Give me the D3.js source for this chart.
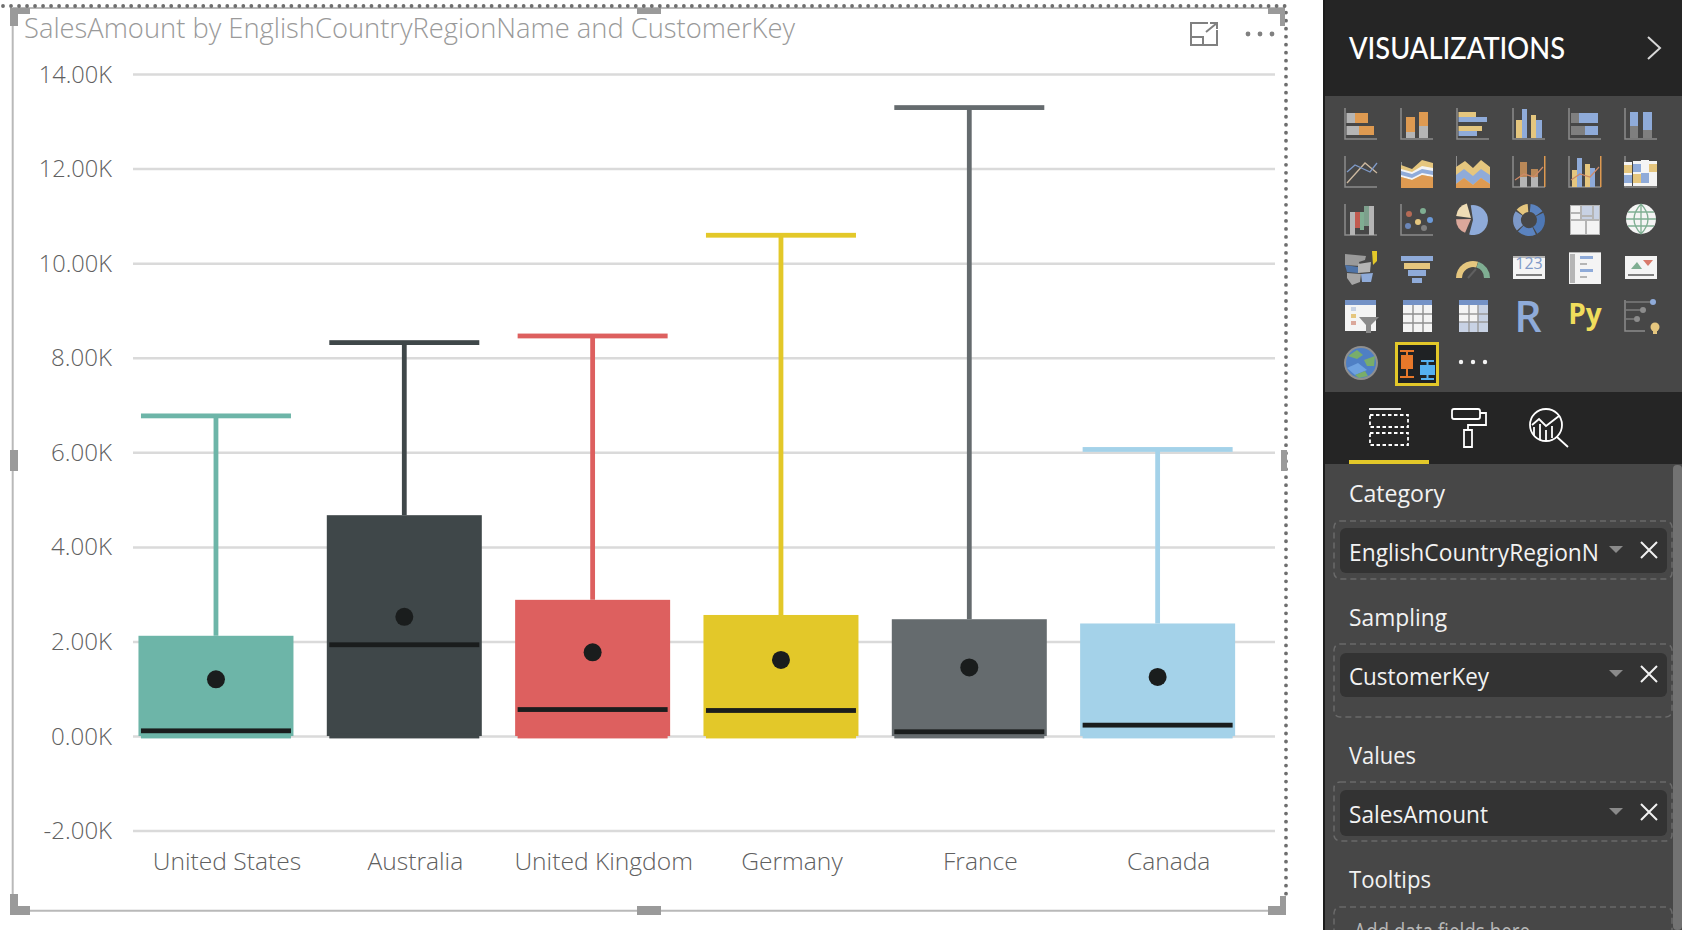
<!DOCTYPE html>
<html><head><meta charset="utf-8">
<script src="https://cdn.jsdelivr.net/npm/d3@7/dist/d3.min.js"></script>
<style>html,body{margin:0;padding:0;background:#fff;overflow:hidden}svg{display:block}text{font-family:"Open Sans",sans-serif}</style>
</head><body><svg id="c" width="1682" height="930"></svg>
<script>
const categories=["United States","Australia","United Kingdom","Germany","France","Canada"];
const whiskerHigh=[6770,8320,8460,10590,13290,6060];
const boxHigh=[2120,4670,2880,2560,2470,2380];
const meanValues=[1200,2520,1770,1610,1450,1250];
const medianValues=[110,1930,560,540,90,230];
const lowValues=[0,0,0,0,0,0];
const colors=["#6DB5A8","#3F4749","#DD605F","#E3C829","#656B6E","#A4D2E9"];
const yTicks=[-2000,0,2000,4000,6000,8000,10000,12000,14000];
const svg=d3.select("#c");
const x=d3.scaleBand().domain(categories).range([121.8,1251.8]).paddingInner(0.177).paddingOuter(0.0885);
const y=d3.scaleLinear().domain([-2000,14000]).range([830.6,74]);

// ---- visual frame
const frame=svg.append("g");
frame.append("path").attr("d","M12.7 8V910.7H1284M12.7 8H1284").attr("fill","none").attr("stroke","#b9b9b9").attr("stroke-width",2);
frame.append("path").attr("d","M3 6H1286V900").attr("fill","none").attr("stroke","#6e6e6e").attr("stroke-width",3.8).attr("stroke-linecap","round").attr("stroke-dasharray","0.01 8");
[[10,8,20,6],[10,8,8,18],[1268,8,16,6],[1280,8,5,18],[10,894,8,21],[10,906,20,9],[637,906,24,9],[637,8,24,6],[10,450,8,21],[1281,450,6,21],[1268,906,18,9],[1280,896,6,19]]
 .forEach(d=>frame.append("rect").attr("x",d[0]).attr("y",d[1]).attr("width",d[2]).attr("height",d[3]).attr("fill","#9a9a9a"));
svg.append("text").attr("x",24).attr("y",38).attr("font-size",27).attr("font-weight",300).attr("fill","#9a9a9a").attr("textLength",771).attr("lengthAdjust","spacingAndGlyphs").text("SalesAmount by EnglishCountryRegionName and CustomerKey");
const hdr=svg.append("g").attr("fill","none").attr("stroke","#808080").attr("stroke-width",2);
hdr.append("path").attr("d","M1217 30V45H1191V23H1208M1191 37H1203V45M1206 32L1217 23M1210 23H1217V29");
[1248,1260,1272].forEach(c=>svg.append("circle").attr("cx",c).attr("cy",34).attr("r",2.4).attr("fill","#808080"));

// ---- axes
const gy=svg.append("g").attr("transform","translate(133,0)").call(d3.axisLeft(y).tickValues(yTicks).tickSize(-1142).tickPadding(21).tickFormat(d=>(d/1000).toFixed(2)+"K"));
gy.select(".domain").remove();
gy.selectAll("line").attr("stroke","#dadada").attr("stroke-width",2.5);
gy.selectAll("text").attr("font-size",24.5).attr("font-weight",300).attr("fill","#606060").attr("dy","0.33em").each(function(){this.setAttribute("textLength",this.textContent.length*(this.textContent[0]=="-"?11.4:12.2));this.setAttribute("lengthAdjust","spacingAndGlyphs");});
const gx=svg.append("g").attr("transform","translate(11,853)").call(d3.axisBottom(x).tickSize(0).tickPadding(0));
gx.select(".domain").remove();
gx.selectAll("text").attr("font-size",24.6).attr("font-weight",300).attr("fill","#606060").attr("dy","0.71em").attr("y",0);

// ---- boxes
const capW=150,th=4.8;
categories.forEach((c,i)=>{
 const g=svg.append("g"),cx=x(c)+x.bandwidth()/2,col=colors[i];
 g.append("line").attr("x1",cx).attr("x2",cx).attr("y1",y(whiskerHigh[i])).attr("y2",y(boxHigh[i])).attr("stroke",col).attr("stroke-width",th);
 g.append("rect").attr("x",x(c)).attr("width",x.bandwidth()).attr("y",y(boxHigh[i])).attr("height",y(lowValues[i])-y(boxHigh[i])).attr("fill",col);
 [whiskerHigh[i],lowValues[i]].forEach(v=>g.append("rect").attr("x",cx-capW/2).attr("width",capW).attr("y",y(v)-th/2).attr("height",th).attr("fill",col));
 g.append("rect").attr("x",cx-capW/2).attr("width",capW).attr("y",y(medianValues[i])-th/2).attr("height",th).attr("fill","#1a1d1d");
 g.append("circle").attr("cx",cx).attr("cy",y(meanValues[i])).attr("r",9).attr("fill","#1a1d1d");
});

// ---- side pane
const P=svg.append("g");
const R=(g,x0,y0,x1,y1,f,o)=>{const e=g.append("rect").attr("x",x0).attr("y",y0).attr("width",x1-x0).attr("height",y1-y0).attr("fill",f);if(o)e.attr("rx",o);return e;};
R(P,1323,0,1682,930,"#474747");
R(P,1323,0,1325,930,"#1c1c1c");
R(P,1325,0,1682,96,"#252525");
R(P,1325,392,1682,464,"#252525");
R(P,1673,465,1682,930,"#727272",4);
R(P,1349,460,1429,464,"#E3C829");
P.append("text").attr("x",1349).attr("y",58.5).attr("font-size",30).attr("fill","#fff").attr("font-weight",500).attr("textLength",216).attr("lengthAdjust","spacingAndGlyphs").style("font-family","Lato").text("VISUALIZATIONS");
P.append("path").attr("d","M1648 37L1660 48L1648 59").attr("fill","none").attr("stroke","#d8d8d8").attr("stroke-width",2);

const T=(s,xx,yy,w,sz,f)=>P.append("text").attr("x",xx).attr("y",yy).attr("font-size",sz||23).attr("fill",f||"#f2f2f2").attr("textLength",w).attr("lengthAdjust","spacingAndGlyphs").text(s);
[["Category",502,96],["Sampling",626,98],["Values",763.5,67],["Tooltips",888,82]].forEach(d=>T(d[0],1349,d[1],d[2]));
const zone=(a,b)=>P.append("rect").attr("x",1334).attr("y",a).attr("width",338).attr("height",b-a).attr("rx",6).attr("fill","none").attr("stroke","#6a6a6a").attr("stroke-width",1.5).attr("stroke-dasharray","6 4");
[[521,579],[644,717],[782,841],[907,990]].forEach(d=>zone(d[0],d[1]));
[[528,573,"EnglishCountryRegionN",561,250],[653,697,"CustomerKey",685,140],[790,836,"SalesAmount",823,139]].forEach(d=>{
 R(P,1340,d[0],1667,d[1],"#333333",6);
 T(d[2],1349,d[3],d[4]);
 const m=d[3]-11;
 P.append("path").attr("d",`M1609 ${m-4}H1623L1616 ${m+3}Z`).attr("fill","#8a8a8a");
 P.append("path").attr("d",`M1641 ${m-8}L1657 ${m+8}M1657 ${m-8}L1641 ${m+8}`).attr("stroke","#f2f2f2").attr("stroke-width",2);
});
T("Add data fields here",1354,940,176,23,"#b8b8b8");

// tab icons
const tab=P.append("g").attr("fill","none").attr("stroke","#fff").attr("stroke-width",1.8);
tab.append("path").attr("d","M1369 409H1401");
tab.append("rect").attr("x",1370).attr("y",415).attr("width",38).attr("height",12).attr("stroke-dasharray","3.5 2.5");
tab.append("rect").attr("x",1370).attr("y",433).attr("width",38).attr("height",12).attr("stroke-dasharray","3.5 2.5");
tab.append("path").attr("d","M1454 409H1478Q1480 409 1480 411V417Q1480 419 1478 419H1454Q1452 419 1452 417V411Q1452 409 1454 409ZM1480 413H1486V425H1468V430M1464 430H1472V447H1464Z");
tab.append("circle").attr("cx",1546).attr("cy",425).attr("r",16);
tab.append("path").attr("d","M1557 437L1568 447M1532 425L1539 419L1546 426L1559 416M1534 427V436M1540 424V440M1546 430V441M1552 426V438");

// ---- viz icons
const O="#DE9A51",G="#b5b5b5",D="#7f7f7f",B="#8FABD9",N="#E5C67E",A="#8c8c8c",W="#f4f4f4",DB="#5b83bf",PK="#DBA89B",GR="#7fae92",LB="#c8d2e4";
const L=(g,pts,c,w)=>g.append("path").attr("d","M"+pts.map(p=>p.join(" ")).join("L")).attr("fill","none").attr("stroke",c).attr("stroke-width",w||1.2);
const Pg=(g,pts,c)=>g.append("path").attr("d","M"+pts.map(p=>p.join(" ")).join("L")+"Z").attr("fill",c);
const C=(g,xx,yy,r,c)=>g.append("circle").attr("cx",xx).attr("cy",yy).attr("r",r).attr("fill",c);
const ax=g=>L(g,[[-16,-16],[-16,15],[16,15]],A,1.5);
const globe=g=>{C(g,0,-1,15,W);g.append("path").attr("d","M-15 -1H15M-13 -8H13M-13 6H13M0 -16V14M0 -16Q-14 -1 0 14M0 -16Q14 -1 0 14").attr("fill","none").attr("stroke",GR).attr("stroke-width",1.3);};
const arc=(g,r0,r1,a,b,c,cx,cy)=>g.append("path").attr("transform",`translate(${cx||0},${cy||0})`).attr("d",d3.arc()({innerRadius:r0,outerRadius:r1,startAngle:a,endAngle:b})).attr("fill",c);
const icons=[
 g=>{ax(g);R(g,-14.5,-11,-6,-1,G);R(g,-6,-11,7,-1,O);R(g,-14.5,2,-2,11,G);R(g,-2,2,13,11,O);},
 g=>{ax(g);R(g,-11,-7,-2,8,O);R(g,-11,8,-2,14,G);R(g,2,-12,11,2,O);R(g,2,2,11,14,G);},
 g=>{ax(g);R(g,-14.5,-12,3,-7,N);R(g,-14.5,-7,14,-2,B);R(g,-14.5,2,9,7,N);R(g,-14.5,7,4,12,B);},
 g=>{ax(g);R(g,-13,-4,-7,14,N);R(g,-7,-15,-2,14,B);R(g,2,-9,7,14,N);R(g,7,-4,13,14,B);},
 g=>{ax(g);R(g,-14,-11,-6,-1,D);R(g,-6,-11,13,-1,B);R(g,-14,2,0,11,D);R(g,0,2,13,11,B);},
 g=>{ax(g);R(g,-11,-12,-3,2,B);R(g,-11,2,-3,14,D);R(g,2,-12,11,6,B);R(g,2,6,11,14,D);},
 g=>{ax(g);L(g,[[-14,11],[4,-9],[16,1]],"#cdb9a0",1.3);L(g,[[-14,0],[-6,-7],[9,0],[16,-9]],"#7f9ac8",1.3);},
 g=>{R(g,-16,-10,-15,16,A);Pg(g,[[-16,-7],[-5,-3],[5,-12],[16,-9],[16,16],[-16,16]],N);Pg(g,[[-16,-3],[-5,0],[5,-6],[16,-4],[16,5],[5,3],[-5,8],[-16,5]],W);Pg(g,[[-16,-1],[-5,2],[5,-3],[16,-1],[16,3],[5,1],[-5,6],[-16,3]],B);Pg(g,[[-16,5],[-5,8],[5,3],[16,5],[16,16],[-16,16]],O);},
 g=>{R(g,-17,-16,-16,16,A);Pg(g,[[-17,-5],[-8,-11],[0,-4],[8,-12],[17,-5],[17,16],[-17,16]],N);Pg(g,[[-17,3],[-9,-3],[0,4],[8,-3],[17,3],[17,12],[8,6],[0,13],[-9,6],[-17,12]],B);Pg(g,[[-17,12],[-9,6],[0,13],[8,6],[17,12],[17,16],[-17,16]],O);},
 g=>{L(g,[[-16,-16],[-16,15],[16,15]],A,1.5);R(g,15,-16,16.5,15,O);R(g,-9,-10,-2,5,"#B98858");R(g,-9,5,-2,15,G);R(g,2,-3,9,5,"#B98858");R(g,2,5,9,15,G);L(g,[[-14,8],[-5,2],[5,5],[14,-5]],"#cf8a66",1.2);},
 g=>{L(g,[[-16,-16],[-16,15],[16,15]],A,1.5);R(g,15,-16,16.5,15,O);R(g,-13,-2,-8,15,N);R(g,-8,-14,-3,15,B);R(g,0,-8,5,15,N);R(g,5,-4,10,15,B);L(g,[[-14,8],[-5,2],[5,5],[14,-5]],"#cf8a66",1.2);},
 g=>{ax(g);[-13,-4,4,12].forEach((c,i)=>{const tp=[-10,-11,-12,-11][i];R(g,c-4,tp,c+4,14,W);R(g,c-4,tp+3,c+4,tp+11,[N,B,W,N][i]);R(g,c-4,tp+13,c+4,14-3,[B,N,B,W][i]);});},
 g=>{ax(g);R(g,-11,-8,-6,15,G);R(g,-6,-8,-1,8,"#C25A4F");R(g,-1,-8,3,10,GR);R(g,8,-14,13,15,G);R(g,3,-14,8,6,"#7D9F8C");},
 g=>{ax(g);[[-9,6,"#6b86b8"],[-8,-6,"#b56a55"],[1,2,N],[6,-9,GR],[13,0,"#6b9ad9"],[7,8,D]].forEach(d=>C(g,d[0],d[1],3,d[2]));},
 g=>{arc(g,0,15,-0.15,3.4,B);arc(g,0,15,3.55,4.7,PK,-2,-1);arc(g,0,15,4.85,6.0,"#EFDDB6",-2,-2);},
 g=>{arc(g,8,16,0.1,1,DB);arc(g,8,16,1.1,2.6,"#4e78b5");arc(g,8,16,2.7,3.9,DB);arc(g,8,16,4,5.3,"#7d99c8");arc(g,8,16,5.4,6.2,N);},
 g=>{R(g,-15,-15,15,15,G);R(g,-14,-14,-5,-8,W);R(g,-14,-6,-5,-1,W);R(g,-3,-14,7,-5,LB);R(g,9,-14,14,-1,LB);R(g,-3,-3,7,-1,LB);R(g,-14,1,0,14,W);R(g,2,1,14,14,W);},
 globe,
 g=>{Pg(g,[[-16,-14],[5,-12],[4,-8],[-2,-6],[-1,-2],[-16,-3]],"#9a9a9a");Pg(g,[[-16,-3],[-3,-1],[-3,5],[-14,4]],"#4f74a8");Pg(g,[[-3,-4],[10,-6],[9,4],[-3,5]],"#b4b4b4");Pg(g,[[-14,5],[0,6],[-1,14],[-9,17],[-14,10]],"#a5a5a5");Pg(g,[[0,6],[12,5],[10,14],[1,14]],B);Pg(g,[[11,-17],[16,-17],[16,-7],[12,-3]],"#E3C829");},
 g=>{R(g,-16,-12,16,-7,B);R(g,-13,-5,13,1,N);R(g,-9,2,9,8,B);R(g,-5,10,5,15,B);},
 g=>{arc(g,11,17,-1.57,0.3,N,0,10);arc(g,11,17,0.32,1.57,GR,0,10);L(g,[[-5,10],[3,1]],"#606060",2);},
 g=>{R(g,-16,-12,16,11,W);R(g,-16,-12,16,-10,G);g.append("text").attr("x",0).attr("y",1).attr("text-anchor","middle").attr("font-size",16).attr("fill","#7f9ac8").text("123");R(g,-13,6,13,8,D);},
 g=>{R(g,-16,-16,16,16,W);R(g,-16,-16,16,-15,G);R(g,-15,-14,-10,15,G);R(g,-5,-12,8,-9,B);R(g,-5,-5,2,-3,G);R(g,-5,1,8,4,B);R(g,-5,8,2,10,G);},
 g=>{R(g,-16,-12,16,11,W);Pg(g,[[-10,1],[-4,-6],[1,1]],GR);Pg(g,[[2,-8],[12,-8],[7,-2]],"#D87A6B");R(g,-13,6,13,8,D);},
 g=>{R(g,-16,-16,15,15,W);R(g,-16,-16,15,-11,"#7492C6");R(g,-10,-9,-5,-5,LB);R(g,-10,-2,-5,2,N);R(g,-10,5,-5,9,PK);Pg(g,[[-2,1],[18,1],[10,9],[10,17],[5,17],[5,9]],"#8a8a8a");},
 g=>{R(g,-14,-16,15,16,W);R(g,-14,-16,15,-11,"#7492C6");g.append("path").attr("d","M-4 -11V16M6 -11V16M-14 -2H15M-14 7H15").attr("stroke","#8f8f8f").attr("stroke-width",1.4);},
 g=>{R(g,-14,-16,15,16,W);R(g,-14,-16,15,-11,"#7492C6");R(g,5,-11,15,16,LB);R(g,-14,6,15,16,LB);g.append("path").attr("d","M-4 -11V16M5 -11V16M-14 -2H15M-14 6H15").attr("stroke","#9a9a9a").attr("stroke-width",1.4);},
 g=>{g.append("text").attr("x",-1).attr("y",16).attr("text-anchor","middle").attr("font-size",43).attr("font-weight",600).attr("fill","#8FABD9").text("R");},
 g=>{g.append("text").attr("x",0).attr("y",8).attr("text-anchor","middle").attr("font-size",28).attr("font-weight",700).attr("fill","#F0DD5C").text("Py");},
 g=>{L(g,[[-16,-16],[-16,15],[4,15]],A,1.5);L(g,[[-15,-14],[12,-14]],A,1.2);L(g,[[-15,-6],[2,-6]],A,1.2);L(g,[[-15,3],[-4,3]],A,1.2);C(g,12,-14,3,B);C(g,2,-6,3,A);C(g,-4,3,3,A);C(g,14,11,4.5,N);R(g,12,15,16,18,N);},
 g=>{C(g,0,-1,17,"#8f8f8f");C(g,0,-1,15,"#4f7fc4");Pg(g,[[-13,-8],[-4,-14],[2,-9],[-4,-5]],"#79ad6a");Pg(g,[[3,-4],[14,-8],[13,2],[6,2]],"#79ad6a");Pg(g,[[-14,4],[-3,-1],[6,6],[-6,11]],"#6fa2e0");Pg(g,[[-6,11],[4,7],[7,12],[-2,14]],"#79ad6a");},
 g=>{R(g,-22,-22,22,22,"#E3C829");R(g,-19,-19,19,19,"#1f2224");R(g,-17,-14,-3,-12,"#E8782A");R(g,-11,-14,-9,14,"#E8782A");R(g,-16,-9,-4,5,"#E8782A");R(g,-17,12,-3,14,"#E8782A");R(g,4,-4,17,-2,"#55B0F0");R(g,9.5,-4,11.5,16,"#55B0F0");R(g,3,1,18,11,"#55B0F0");R(g,4,14,17,16,"#55B0F0");},
 g=>{[-12,0,12].forEach(c=>C(g,c,-2,2.2,"#f4f4f4"));}
];
const cols=[1361,1417,1473,1529,1585,1641],rows=[124,172,220,268,316,364];
icons.forEach((f,i)=>{const g=P.append("g").attr("transform",`translate(${cols[i%6]},${rows[Math.floor(i/6)]})`);f(g);});
</script></body></html>
